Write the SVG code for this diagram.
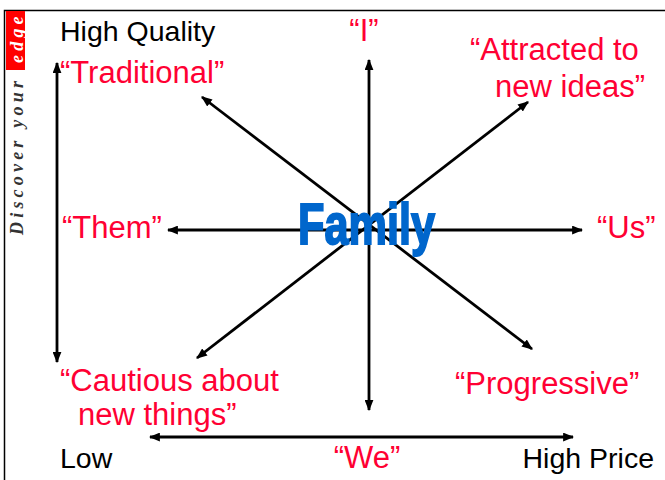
<svg xmlns="http://www.w3.org/2000/svg" width="665" height="480" viewBox="0 0 665 480">
<defs>
<style>
.lbl{font-family:"Liberation Sans",Arial,sans-serif;font-size:28.5px;fill:#000}
.red{font-family:"Liberation Sans",Arial,sans-serif;font-size:31px;fill:#ff0033}
.ax{stroke:#000;stroke-width:2.8;fill:none;marker-start:url(#ah);marker-end:url(#ah)}
.brand{font-family:"Liberation Serif","Times New Roman",serif;font-style:italic;font-weight:bold;font-size:18px;letter-spacing:4.2px}
</style>
<marker id="ah" viewBox="0 0 10 8" refX="9" refY="4" markerWidth="11" markerHeight="9" markerUnits="userSpaceOnUse" orient="auto-start-reverse">
<path d="M0,0 L10,4 L0,8 z" fill="#000"/>
</marker>
</defs>
<rect width="665" height="480" fill="#fff"/>
<g id="frame">
<path d="M665,10.5 H4.5 V480" stroke="#000" stroke-width="1.5" fill="none"/>
<rect x="6" y="11" width="19" height="59" fill="#ff0000"/>
<text class="brand" transform="translate(23,235) rotate(-90)" fill="#333">Discover your</text>
<text class="brand" transform="translate(23,63) rotate(-90)" fill="#fff">edge</text>
</g>
<g id="connectors">
<line class="ax" x1="57" y1="63" x2="57" y2="362"/>
<line class="ax" x1="369" y1="60" x2="369" y2="410"/>
<line class="ax" x1="168" y1="230" x2="582" y2="230"/>
<line class="ax" x1="150" y1="437" x2="573" y2="437"/>
<line class="ax" x1="202" y1="97" x2="532" y2="349"/>
<line class="ax" x1="528" y1="102" x2="197" y2="358"/>
</g>
<g id="high-quality"><text class="lbl" x="60" y="41">High Quality</text></g>
<g id="low"><text class="lbl" x="60" y="468">Low</text></g>
<g id="high-price"><text class="lbl" x="654" y="468" text-anchor="end">High Price</text></g>
<g id="i"><text class="red" x="364" y="41" text-anchor="middle">“I”</text></g>
<g id="attracted"><text class="red" x="470" y="60">“Attracted to</text><text class="red" x="645" y="97" text-anchor="end">new ideas”</text></g>
<g id="traditional"><text class="red" x="60" y="83">“Traditional”</text></g>
<g id="them"><text class="red" x="62" y="238">“Them”</text></g>
<g id="us"><text class="red" x="597" y="238">“Us”</text></g>
<g id="cautious"><text class="red" x="60" y="391">“Cautious about</text><text class="red" x="78" y="425">new things”</text></g>
<g id="progressive"><text class="red" x="455" y="394">“Progressive”</text></g>
<g id="we"><text class="red" x="367" y="468" text-anchor="middle">“We”</text></g>
<g id="family"><text x="298" y="244" font-family="'Liberation Sans',Arial,sans-serif" font-weight="bold" font-size="57" fill="#0066cc" stroke="#0066cc" stroke-width="2" textLength="137" lengthAdjust="spacingAndGlyphs">Family</text></g>
</svg>
